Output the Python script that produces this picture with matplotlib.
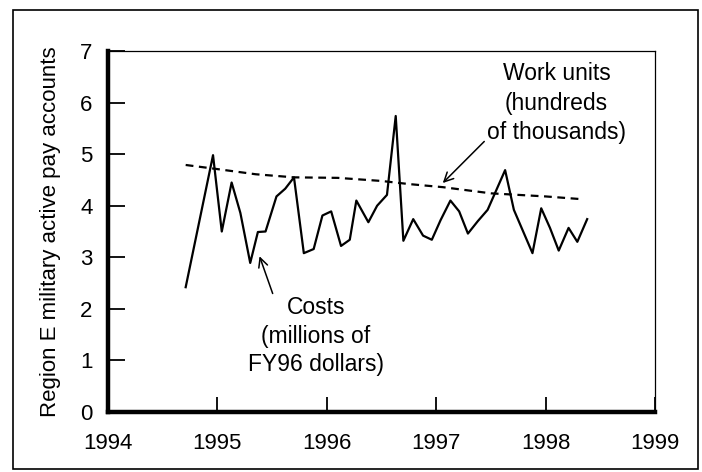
import matplotlib
matplotlib.use('Agg')
import matplotlib.pyplot as plt
from matplotlib.patches import Rectangle

plt.rcParams['font.family'] = ['Liberation Sans', 'DejaVu Sans']

# Costs (millions of FY96 dollars)
cost_x = [1994.71, 1994.96, 1995.04, 1995.13, 1995.21, 1995.30, 1995.37, 1995.44,
          1995.54, 1995.62, 1995.70, 1995.79, 1995.88, 1995.96, 1996.04, 1996.13,
          1996.21, 1996.27, 1996.38, 1996.46, 1996.55, 1996.63, 1996.70, 1996.79,
          1996.88, 1996.96, 1997.04, 1997.13, 1997.21, 1997.29, 1997.38, 1997.47,
          1997.63, 1997.71, 1997.88, 1997.96, 1998.04, 1998.12, 1998.21, 1998.29,
          1998.38]
cost_y = [2.42, 4.98, 3.50, 4.45, 3.86, 2.89, 3.49, 3.50,
          4.18, 4.33, 4.55, 3.08, 3.16, 3.81, 3.89, 3.22,
          3.34, 4.10, 3.68, 4.00, 4.21, 5.74, 3.32, 3.74,
          3.42, 3.34, 3.72, 4.10, 3.89, 3.46, 3.70, 3.92,
          4.69, 3.92, 3.08, 3.95, 3.57, 3.13, 3.57, 3.30,
          3.74]

# Work units (hundreds of thousands)
work_x = [1994.71, 1995.00, 1995.35, 1995.70, 1996.10, 1996.50, 1996.75,
          1997.06, 1997.50, 1998.00, 1998.31]
work_y = [4.79, 4.71, 4.61, 4.55, 4.54, 4.48, 4.42, 4.36, 4.24, 4.18, 4.13]

x_ticks = [1994, 1995, 1996, 1997, 1998, 1999]
y_ticks = [0, 1, 2, 3, 4, 5, 6, 7]

fig = plt.figure(figsize=(7.02, 4.72), dpi=100)
ax = fig.add_axes([108 / 702, 1 - 412 / 472, (655 - 108) / 702, (412 - 51) / 472])

ax.plot(cost_x, cost_y, color='black', linewidth=1.6)
ax.plot(work_x, work_y, color='black', linewidth=1.6, linestyle=(0, (3.5, 2.5)))

ax.set_xlim(1994, 1999)
ax.set_ylim(0, 7)
ax.set_xticks(x_ticks)
ax.set_yticks(y_ticks)

for side in ['left', 'bottom']:
    ax.spines[side].set_linewidth(3.2)
for side in ['top', 'right']:
    ax.spines[side].set_linewidth(0.9)

ax.tick_params(axis='x', direction='in', length=11, width=1.3, pad=15, labelsize=16)
ax.tick_params(axis='y', direction='in', length=12, width=1.3, pad=11, labelsize=16)
ax.set_ylabel('Region E military active pay accounts', fontsize=16, labelpad=14)

ax.annotate('Work units\n(hundreds\nof thousands)', xy=(1997.06, 4.44), xytext=(1998.10, 5.99),
            fontsize=16.5, ha='center', va='center', linespacing=1.38,
            arrowprops=dict(arrowstyle='->', color='black', lw=1.1,
                            shrinkA=0, shrinkB=0, relpos=(0.03, 0.12)))
ax.annotate('Costs\n(millions of\nFY96 dollars)', xy=(1995.385, 3.02), xytext=(1995.90, 1.47),
            fontsize=16.5, ha='center', va='center', linespacing=1.3,
            arrowprops=dict(arrowstyle='->', color='black', lw=1.1,
                            shrinkA=0, shrinkB=0, relpos=(0.2, 0.95)))

# outer frame
fig.patches.append(Rectangle((13 / 702, 3 / 472), (698 - 13) / 702, (469 - 10) / 472,
                             transform=fig.transFigure, fill=False,
                             edgecolor='black', linewidth=1.2))

fig.savefig('out.png', dpi=100, facecolor='white')
